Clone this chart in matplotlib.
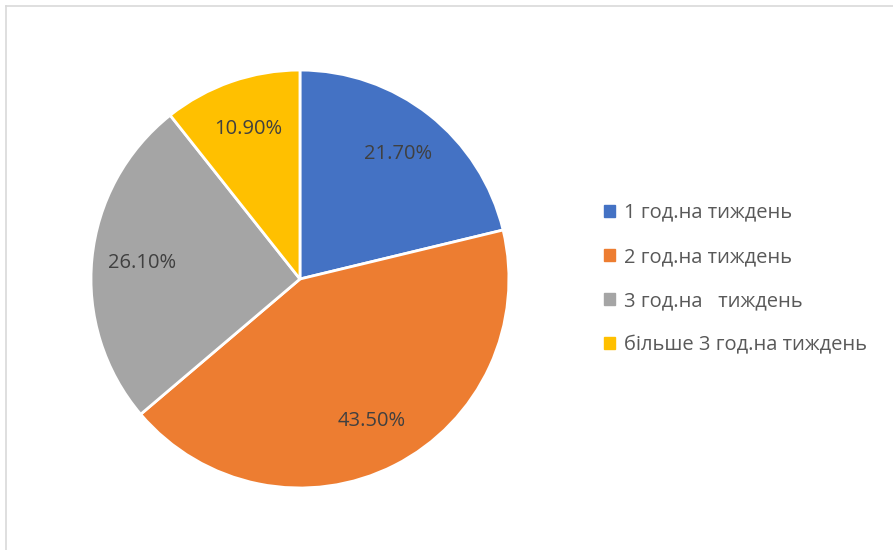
import matplotlib.pyplot as plt
from matplotlib.patches import Patch
from matplotlib.lines import Line2D

plt.rcParams['font.family'] = ['Open Sans', 'DejaVu Sans']

categories = ["1 год.на тиждень", "2 год.на тиждень", "3 год.на   тиждень", "більше 3 год.на тиждень"]
values = [21.7, 43.5, 26.1, 10.9]
colors = ["#4472C4", "#ED7D31", "#A5A5A5", "#FFC000"]
total = sum(values)

fig = plt.figure(figsize=(8.93, 5.5), dpi=100)
ax = fig.add_axes([0.1019, 0.1127, 0.468, 0.76])

wedges, texts, autotexts = ax.pie(
    values, colors=colors, startangle=90, counterclock=False,
    autopct=lambda p: f"{p * total / 100:.2f}%", pctdistance=0.76,
    wedgeprops=dict(edgecolor="white", linewidth=2),
    textprops=dict(color="#404040", fontsize=14.5),
)
ax.set_xlim(-1, 1)
ax.set_ylim(-1, 1)
ax.set_aspect("equal")

handles = [Patch(facecolor=c, edgecolor=c) for c in colors]
fig.legend(handles, categories, loc="center left",
           bbox_to_anchor=(604 / 893, 1 - 279 / 550), frameon=False,
           fontsize=14.5, labelcolor="#595959", handlelength=0.55, handleheight=0.55,
           handletextpad=0.45, labelspacing=1.2, borderpad=0, borderaxespad=0)

# chart border (top and left visible)
fig.add_artist(Line2D([6 / 893, 1], [1 - 6 / 550, 1 - 6 / 550], color="#D9D9D9", lw=1.2))
fig.add_artist(Line2D([6 / 893, 6 / 893], [0, 1 - 6 / 550], color="#D9D9D9", lw=1.2))

fig.savefig("out.png", dpi=100)
